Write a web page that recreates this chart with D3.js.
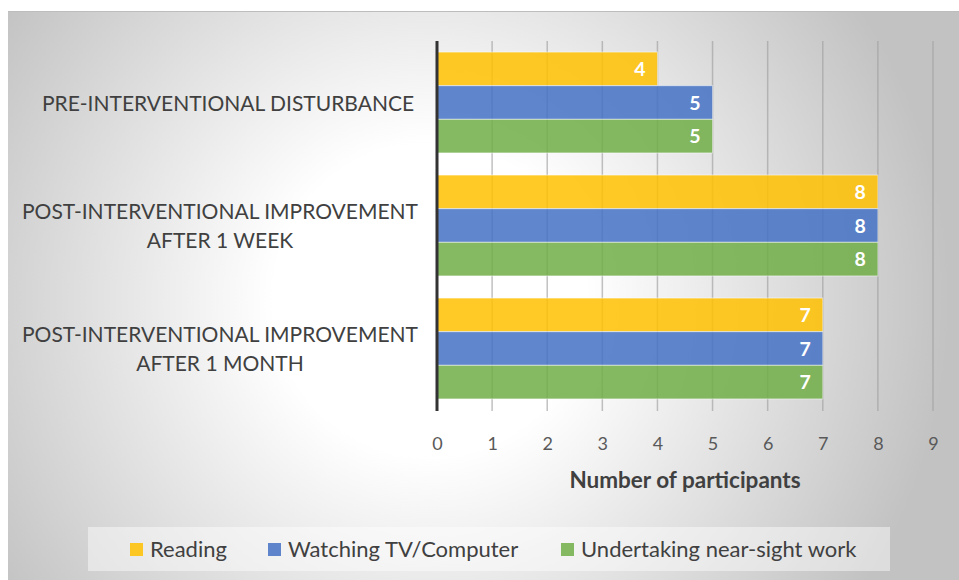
<!DOCTYPE html>
<html><head><meta charset="utf-8">
<script src="https://cdn.jsdelivr.net/npm/d3@7/dist/d3.min.js"></script>
<style>html,body{margin:0;padding:0;background:#fff;}svg{display:block;}</style>
</head><body>
<svg id="c" width="959" height="580"></svg>
<script>
const categories = [["PRE-INTERVENTIONAL DISTURBANCE"],
  ["POST-INTERVENTIONAL IMPROVEMENT","AFTER 1 WEEK"],
  ["POST-INTERVENTIONAL IMPROVEMENT","AFTER 1 MONTH"]];
const categoryKeys = ["pre","week","month"];
const seriesNames = ["Reading","Watching TV/Computer","Undertaking near-sight work"];
const seriesColors = ["#FFC000","#4472C4","#70AD47"];
const reading = [4,8,7];
const watching = [5,8,7];
const nearSight = [5,8,7];
const xTicks = [0,1,2,3,4,5,6,7,8,9];
const xTitle = "Number of participants";

const series = [reading, watching, nearSight];
const font = "Lato, 'Open Sans', sans-serif";
const svg = d3.select("#c");
const defs = svg.append("defs");
const rg = defs.append("radialGradient").attr("id","bg").attr("gradientUnits","userSpaceOnUse")
  .attr("cx",430).attr("cy",300).attr("r",520);
rg.append("stop").attr("offset",0).attr("stop-color","#ffffff");
rg.append("stop").attr("offset",0.3).attr("stop-color","#ffffff");
rg.append("stop").attr("offset",1).attr("stop-color","#c2c2c2");
svg.append("rect").attr("x",8).attr("y",11).attr("width",951).attr("height",569).attr("fill","url(#bg)");
svg.append("line").attr("x1",8).attr("x2",959).attr("y1",11.5).attr("y2",11.5).attr("stroke","#bdbdbd");

const x = d3.scaleLinear().domain([0,9]).range([437,933]);
const y = d3.scaleBand().domain(categoryKeys).range([41,410]).paddingInner(0.18).paddingOuter(0.09);
const ys = d3.scaleBand().domain(d3.range(series.length)).range([0,y.bandwidth()]);

// gridlines
svg.append("g").selectAll("line").data(xTicks.slice(1)).join("line")
  .attr("x1",d=>x(d)).attr("x2",d=>x(d)).attr("y1",41).attr("y2",411)
  .attr("stroke","#a0a0a0").attr("stroke-opacity",0.65).attr("stroke-width",1.5);

// bars
const gBars = svg.append("g");
series.forEach((vals,si)=>{
  gBars.append("g").selectAll("rect").data(vals).join("rect")
    .attr("x",x(0)).attr("y",(d,i)=>y(categoryKeys[i])+ys(si))
    .attr("width",d=>x(d)-x(0)).attr("height",ys.bandwidth())
    .attr("fill",seriesColors[si]).attr("fill-opacity",0.85)
    .attr("stroke","#ffffff").attr("stroke-opacity",0.5).attr("stroke-width",1);
  gBars.append("g").selectAll("text").data(vals).join("text")
    .attr("x",d=>x(d)-12).attr("y",(d,i)=>y(categoryKeys[i])+ys(si)+ys.bandwidth()/2+7)
    .attr("text-anchor","end").attr("fill","#ffffff").attr("font-family",font)
    .attr("font-weight","bold").attr("font-size",19.5).text(d=>d);
});

// y axis line
svg.append("line").attr("x1",x(0)).attr("x2",x(0)).attr("y1",41).attr("y2",411)
  .attr("stroke","#333333").attr("stroke-width",3);

// x axis tick labels
const xAxis = d3.axisBottom(x).tickValues(xTicks).tickSize(0).tickPadding(0);
const gx = svg.append("g").attr("transform","translate(0,450)").call(xAxis);
gx.select(".domain").remove();
gx.selectAll("text").attr("font-family",font).attr("font-size",18).attr("fill","#595959").attr("dy",0).attr("y",0);

svg.append("text").attr("x",(x(0)+x(9))/2).attr("y",488).attr("text-anchor","middle")
  .attr("font-family",font).attr("font-weight","bold").attr("font-size",22.5).attr("fill","#404040").text(xTitle);

// category labels
categories.forEach((lines,i)=>{
  const cy = y(categoryKeys[i]) + y.bandwidth()/2;
  const t = svg.append("text").attr("text-anchor","middle").attr("font-family",font)
    .attr("font-size",21).attr("fill","#404040");
  lines.forEach((ln,j)=>{
    t.append("tspan").attr("x",i===0?228:220).attr("y",cy-(lines.length-1)*29/2+8+j*29).text(ln);
  });
});

// legend
svg.append("rect").attr("x",88).attr("y",527).attr("width",802).attr("height",44)
  .attr("fill","#ffffff").attr("fill-opacity",0.45);
const legX = [130,268,561];
seriesNames.forEach((n,i)=>{
  svg.append("rect").attr("x",legX[i]).attr("y",543).attr("width",13).attr("height",13)
    .attr("fill",seriesColors[i]).attr("fill-opacity",0.85);
  svg.append("text").attr("x",legX[i]+20).attr("y",557).attr("font-family",font)
    .attr("font-size",22).attr("fill","#404040").text(n);
});
</script>
</body></html>
